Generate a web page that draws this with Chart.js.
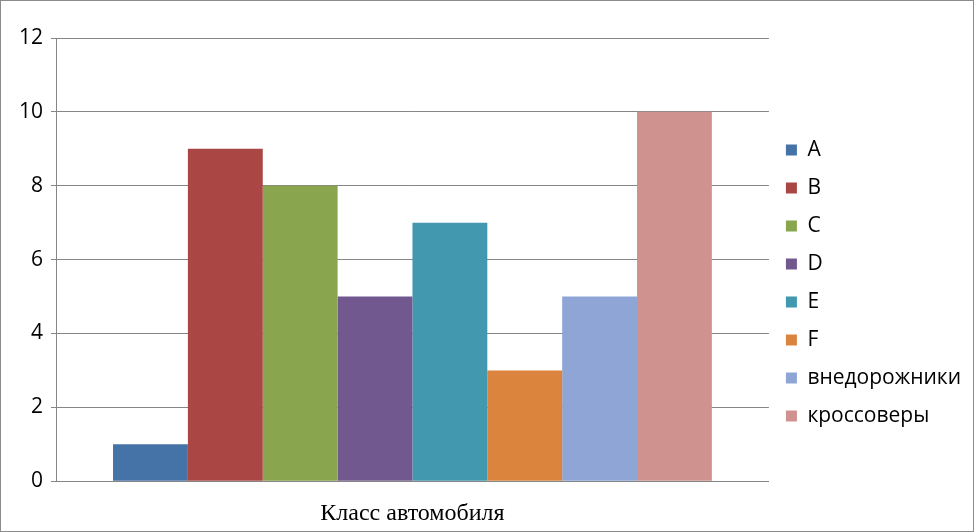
<!DOCTYPE html>
<html>
<head>
<meta charset="utf-8">
<script src="https://cdn.jsdelivr.net/npm/chart.js@4"></script>
<style>
    html, body { margin: 0; padding: 0; background: #fff; }
    .frame {
        width: 972px;
        height: 530px;
        border: 1px solid #8c8c8c;
        position: relative;
    }
</style>
</head>
<body>
<div class="frame">
    <canvas id="classChart" width="972" height="530"></canvas>
</div>
<script>
const categories = [''];
const seriesNames = ['A', 'B', 'C', 'D', 'E', 'F', 'внедорожники', 'кроссоверы'];
const seriesValues = [1, 9, 8, 5, 7, 3, 5, 10];
const seriesColors = ['#4572a7', '#aa4643', '#89a54e', '#71588f', '#4198af', '#db843d', '#8ea5d6', '#d0928f'];
const yTicks = [0, 2, 4, 6, 8, 10, 12];

document.addEventListener('DOMContentLoaded', function() {
    const ctx = document.getElementById('classChart');

    const datasets = seriesNames.map(function(name, i) {
        return {
            label: name,
            data: [seriesValues[i]],
            backgroundColor: seriesColors[i],
            borderWidth: 0,
            barPercentage: 1,
            categoryPercentage: 0.84
        };
    });

    new Chart(ctx, {
        type: 'bar',
        data: { labels: categories, datasets: datasets },
        options: {
            responsive: false,
            animation: false,
            layout: { padding: { top: 37, right: 2, left: 0, bottom: 3 } },
            plugins: {
                tooltip: { enabled: false },
                legend: {
                    position: 'right',
                    labels: {
                        boxWidth: 11,
                        boxHeight: 11,
                        padding: 17,
                        color: '#000',
                        font: { family: '"Open Sans", sans-serif', size: 21 }
                    }
                }
            },
            scales: {
                x: {
                    grid: { display: false, drawTicks: false },
                    border: { color: '#868686' },
                    ticks: { display: false },
                    title: {
                        display: true,
                        text: 'Класс автомобиля',
                        color: '#000',
                        font: { family: '"Liberation Serif", "DejaVu Serif", serif', size: 24 },
                        padding: { top: 18, bottom: 0 }
                    }
                },
                y: {
                    min: 0,
                    max: 12,
                    afterBuildTicks: function(axis) {
                        axis.ticks = yTicks.map(function(v) { return { value: v }; });
                    },
                    afterFit: function(axis) { axis.width = 55; },
                    grid: { color: '#868686', tickLength: 5 },
                    border: { color: '#868686' },
                    ticks: {
                        color: '#000',
                        padding: 8,
                        font: { family: '"Open Sans", sans-serif', size: 21 }
                    }
                }
            }
        }
    });
});
</script>
</body>
</html>
